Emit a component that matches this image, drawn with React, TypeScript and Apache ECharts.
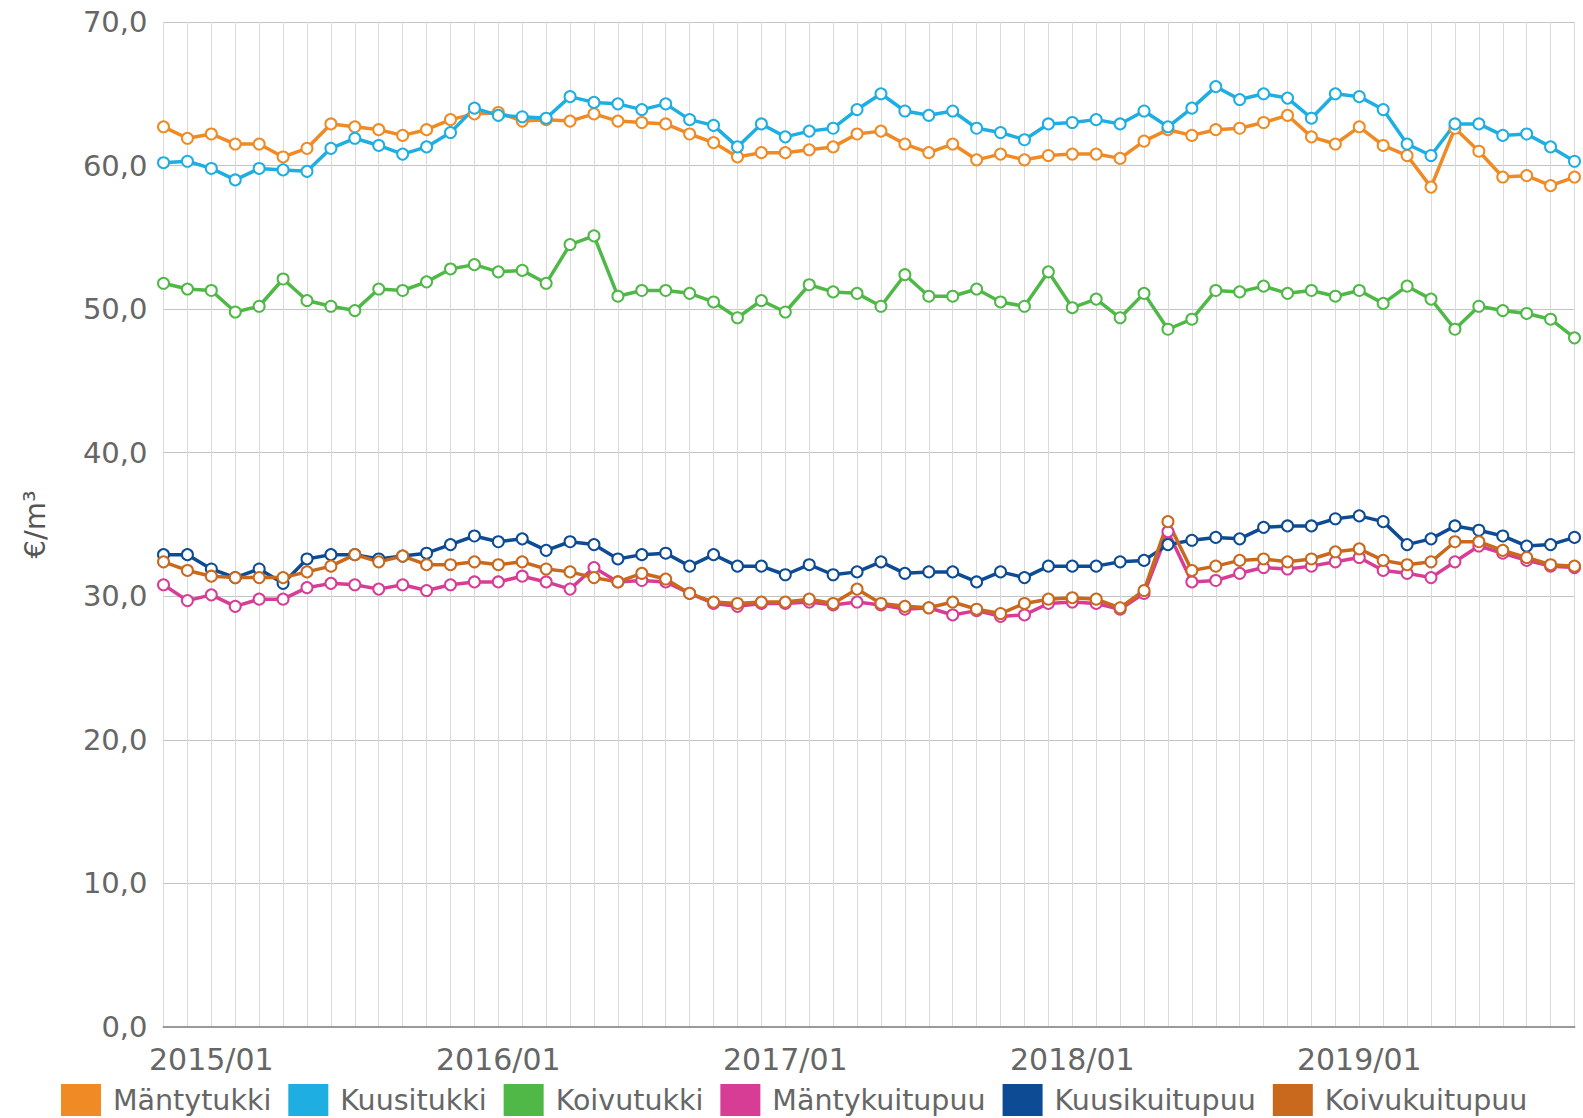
import React, { useEffect, useRef } from "react";
import * as echarts from "echarts";

// Monthly categories 2014/11 .. 2019/10
const startYear = 2014;
const startMonth = 11;
const monthCount = 60;
const categories: string[] = [];
for (let i = 0; i < monthCount; i++) {
  const m0 = startMonth - 1 + i;
  const y = startYear + Math.floor(m0 / 12);
  const m = (m0 % 12) + 1;
  categories.push(`${y}/${m < 10 ? "0" + m : m}`);
}

const seriesNames = [
  "Mäntytukki",
  "Kuusitukki",
  "Koivutukki",
  "Mäntykuitupuu",
  "Kuusikuitupuu",
  "Koivukuitupuu",
];

const seriesColors = ["#f08a24", "#1faee2", "#4fb846", "#d83d96", "#0d4b94", "#c9691d"];

const mantytukki = [
  62.7, 61.9, 62.2, 61.5, 61.5, 60.6, 61.2, 62.9, 62.7, 62.5, 62.1, 62.5, 63.2, 63.6, 63.7,
  63.1, 63.2, 63.1, 63.6, 63.1, 63.0, 62.9, 62.2, 61.6, 60.6, 60.9, 60.9, 61.1, 61.3, 62.2,
  62.4, 61.5, 60.9, 61.5, 60.4, 60.8, 60.4, 60.7, 60.8, 60.8, 60.5, 61.7, 62.5, 62.1, 62.5,
  62.6, 63.0, 63.5, 62.0, 61.5, 62.7, 61.4, 60.7, 58.5, 62.6, 61.0, 59.2, 59.3, 58.6, 59.2,
];

const kuusitukki = [
  60.2, 60.3, 59.8, 59.0, 59.8, 59.7, 59.6, 61.2, 61.9, 61.4, 60.8, 61.3, 62.3, 64.0, 63.5,
  63.4, 63.3, 64.8, 64.4, 64.3, 63.9, 64.3, 63.2, 62.8, 61.3, 62.9, 62.0, 62.4, 62.6, 63.9,
  65.0, 63.8, 63.5, 63.8, 62.6, 62.3, 61.8, 62.9, 63.0, 63.2, 62.9, 63.8, 62.7, 64.0, 65.5,
  64.6, 65.0, 64.7, 63.3, 65.0, 64.8, 63.9, 61.5, 60.7, 62.9, 62.9, 62.1, 62.2, 61.3, 60.3,
];

const koivutukki = [
  51.8, 51.4, 51.3, 49.8, 50.2, 52.1, 50.6, 50.2, 49.9, 51.4, 51.3, 51.9, 52.8, 53.1, 52.6,
  52.7, 51.8, 54.5, 55.1, 50.9, 51.3, 51.3, 51.1, 50.5, 49.4, 50.6, 49.8, 51.7, 51.2, 51.1,
  50.2, 52.4, 50.9, 50.9, 51.4, 50.5, 50.2, 52.6, 50.1, 50.7, 49.4, 51.1, 48.6, 49.3, 51.3,
  51.2, 51.6, 51.1, 51.3, 50.9, 51.3, 50.4, 51.6, 50.7, 48.6, 50.2, 49.9, 49.7, 49.3, 48.0,
];

const mantykuitupuu = [
  30.8, 29.7, 30.1, 29.3, 29.8, 29.8, 30.6, 30.9, 30.8, 30.5, 30.8, 30.4, 30.8, 31.0, 31.0,
  31.4, 31.0, 30.5, 32.0, 31.0, 31.1, 31.0, 30.2, 29.5, 29.3, 29.5, 29.5, 29.6, 29.4, 29.6,
  29.4, 29.1, 29.2, 28.7, 29.0, 28.6, 28.7, 29.5, 29.6, 29.5, 29.1, 30.2, 34.5, 31.0, 31.1,
  31.6, 32.0, 31.9, 32.1, 32.4, 32.7, 31.8, 31.6, 31.3, 32.4, 33.5, 33.0, 32.5, 32.1, 32.0,
];

const kuusikuitupuu = [
  32.9, 32.9, 31.9, 31.3, 31.9, 30.9, 32.6, 32.9, 32.9, 32.6, 32.8, 33.0, 33.6, 34.2, 33.8,
  34.0, 33.2, 33.8, 33.6, 32.6, 32.9, 33.0, 32.1, 32.9, 32.1, 32.1, 31.5, 32.2, 31.5, 31.7,
  32.4, 31.6, 31.7, 31.7, 31.0, 31.7, 31.3, 32.1, 32.1, 32.1, 32.4, 32.5, 33.6, 33.9, 34.1,
  34.0, 34.8, 34.9, 34.9, 35.4, 35.6, 35.2, 33.6, 34.0, 34.9, 34.6, 34.2, 33.5, 33.6, 34.1,
];

const koivukuitupuu = [
  32.4, 31.8, 31.4, 31.3, 31.3, 31.3, 31.7, 32.1, 32.9, 32.4, 32.8, 32.2, 32.2, 32.4, 32.2,
  32.4, 31.9, 31.7, 31.3, 31.0, 31.6, 31.2, 30.2, 29.6, 29.5, 29.6, 29.6, 29.8, 29.5, 30.5,
  29.5, 29.3, 29.2, 29.6, 29.1, 28.8, 29.5, 29.8, 29.9, 29.8, 29.2, 30.4, 35.2, 31.8, 32.1,
  32.5, 32.6, 32.4, 32.6, 33.1, 33.3, 32.5, 32.2, 32.4, 33.8, 33.8, 33.2, 32.7, 32.2, 32.1,
];

const seriesData = [mantytukki, kuusitukki, koivutukki, mantykuitupuu, kuusikuitupuu, koivukuitupuu];

const yMin = 0;
const yMax = 70;
const yInterval = 10;
const yAxisName = "€/m³";

const FONT = "DejaVu Sans";

export default function App() {
  const ref = useRef<HTMLDivElement>(null);

  useEffect(() => {
    if (!ref.current) return;
    const chart = echarts.init(ref.current, undefined, { renderer: "svg" });
    chart.setOption({
      animation: false,
      backgroundColor: "#ffffff",
      color: seriesColors,
      grid: { left: 163.5, right: 8.5, top: 22, bottom: 91, containLabel: false },
      legend: {
        data: seriesNames,
        left: 56,
        top: 1079,
        icon: "rect",
        itemWidth: 38,
        itemHeight: 30,
        itemGap: 17,
        textStyle: {
          fontFamily: FONT,
          fontSize: 28.5,
          color: "#666666",
          padding: [0, 0, 0, 8],
        },
      },
      xAxis: {
        type: "category",
        data: categories,
        boundaryGap: false,
        axisLine: { show: true, lineStyle: { color: "#9a9a9a", width: 2 } },
        axisTick: { show: false },
        axisLabel: {
          interval: (idx: number, val: string) => val.endsWith("/01"),
          fontFamily: FONT,
          fontSize: 30,
          color: "#666666",
          margin: 17,
        },
        splitLine: { show: true, interval: 0, lineStyle: { color: "#dadada", width: 1 } },
      },
      yAxis: {
        type: "value",
        min: yMin,
        max: yMax,
        interval: yInterval,
        name: yAxisName,
        nameLocation: "middle",
        nameGap: 114,
        nameRotate: 90,
        nameTextStyle: { fontFamily: FONT, fontSize: 29, color: "#555555" },
        axisLine: { show: false },
        axisTick: { show: false },
        axisLabel: {
          fontFamily: FONT,
          fontSize: 29,
          color: "#666666",
          margin: 16,
          formatter: (v: number) => v.toFixed(1).replace(".", ","),
        },
        splitLine: { show: true, lineStyle: { color: "#c4c4c4", width: 1 } },
      },
      series: seriesNames.map((name, i) => ({
        name,
        type: "line",
        data: seriesData[i],
        symbol: "emptyCircle",
        symbolSize: 11,
        showSymbol: true,
        lineStyle: { width: 3.5, color: seriesColors[i] },
        itemStyle: { color: seriesColors[i], borderColor: seriesColors[i], borderWidth: 3 },
        emphasis: { disabled: true },
      })),
    });
    return () => chart.dispose();
  }, []);

  return (
    <div
      ref={ref}
      style={{ position: "absolute", left: 0, top: 0, width: 1583, height: 1118 }}
    />
  );
}
